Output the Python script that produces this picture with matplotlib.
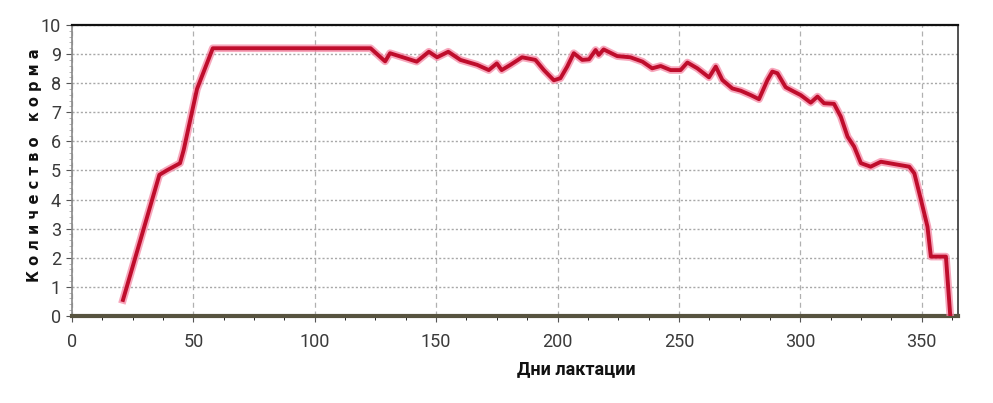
import numpy as np
import matplotlib.pyplot as plt
from matplotlib.ticker import MultipleLocator

# day of lactation / feed amount
days = [21, 36, 39, 44.5, 46, 51.5, 58, 123, 129, 131, 142, 147, 150.4, 155, 160,
        166.9, 171.7, 175, 177, 180.6, 185.4, 190.9, 194.4, 198.5, 201.2, 204,
        206.7, 210.2, 213, 215.7, 217, 219, 224.6, 230, 235, 239, 242.5, 246.6,
        250.7, 253.5, 257.6, 262.4, 265.2, 267.9, 272, 275.5, 279.6, 283, 286.5,
        288.5, 290.6, 294, 297.4, 300.2, 304.3, 307.1, 309.8, 313.9, 316.7,
        319.5, 322.2, 325, 329, 333.2, 338.7, 344.9, 347, 349.7, 352.4, 353.8,
        360, 361.8]
feed = [0.55, 4.85, 5.0, 5.25, 5.7, 7.8, 9.2, 9.2, 8.75, 9.03, 8.74, 9.08, 8.89,
        9.08, 8.8, 8.63, 8.45, 8.68, 8.45, 8.63, 8.89, 8.8, 8.45, 8.1, 8.17, 8.57,
        9.03, 8.8, 8.82, 9.14, 8.97, 9.16, 8.93, 8.89, 8.74, 8.51, 8.59, 8.45,
        8.45, 8.71, 8.51, 8.2, 8.57, 8.11, 7.82, 7.74, 7.59, 7.45, 8.11, 8.4,
        8.34, 7.86, 7.71, 7.59, 7.33, 7.54, 7.31, 7.29, 6.85, 6.16, 5.82, 5.25,
        5.13, 5.3, 5.22, 5.13, 4.9, 4.0, 3.07, 2.04, 2.04, 0.0]

x_ticks = [0, 50, 100, 150, 200, 250, 300, 350]
y_ticks = list(range(0, 11))

plt.rcParams['font.family'] = ['Roboto', 'DejaVu Sans']

fig = plt.figure(figsize=(9.93, 4.03), dpi=100)
ax = fig.add_axes([0.0725, 0.216, 0.8923, 0.722])

ax.plot(days, feed, color='#f58aa6', lw=5.5, alpha=0.75, zorder=3)
ax.plot(days, feed, color='#bf0d2c', lw=2.8, solid_joinstyle='round', zorder=4)

ax.set_xlim(0, 365)
ax.set_ylim(0, 10)
ax.set_xticks(x_ticks)
ax.set_yticks(y_ticks)
ax.xaxis.set_minor_locator(MultipleLocator(12.5))
ax.yaxis.set_minor_locator(MultipleLocator(0.2))

ax.tick_params(axis='both', labelsize=13, colors='#555555', labelcolor='#3a3a3a')
ax.tick_params(axis='x', which='major', length=4, pad=8)
ax.tick_params(axis='x', which='minor', length=3)
ax.tick_params(axis='y', which='major', length=4, pad=4)
ax.tick_params(axis='y', which='minor', length=2, color='#aaaaaa')

ax.grid(axis='y', which='major', color='#a8a8a8', linestyle=(0, (1.5, 1.5)), lw=1)
ax.grid(axis='x', which='major', color='#b0b0b0', linestyle=(0, (4, 3)), lw=0.9)

ax.spines['top'].set_color('#111111')
ax.spines['top'].set_linewidth(1.6)
ax.spines['right'].set_color('#333333')
ax.spines['right'].set_linewidth(1.2)
ax.spines['left'].set_color('#888888')
ax.spines['left'].set_linewidth(1.2)
ax.spines['bottom'].set_color('#57533f')
ax.spines['bottom'].set_linewidth(3)

fig.text(0.58, 0.085, 'Дни лактации', ha='center', va='center',
         fontsize=13, fontweight='bold', color='#111111')
fig.text(0.035, 0.59, 'К о л и ч е с т в о   к о р м а', ha='center', va='center',
         rotation=90, fontsize=10.5, fontweight='bold', color='#111111',
         family=['DejaVu Sans'])

fig.savefig('out.png', dpi=100)
